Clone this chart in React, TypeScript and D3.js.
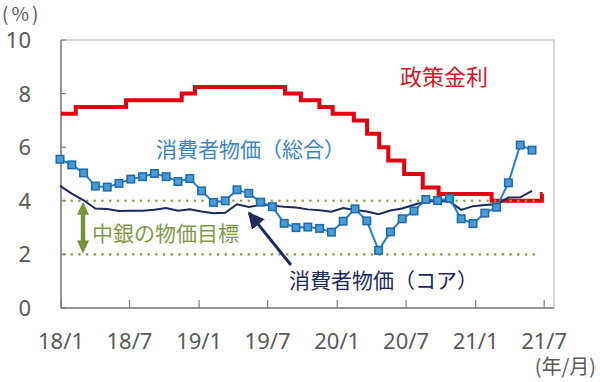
import React from 'react';
import * as d3 from 'd3';

// ---- data ----
const monthStarts: Date[] = d3.timeMonth.range(new Date(2018, 0, 1), new Date(2021, 5, 1));
const months: string[] = monthStarts.map((d) => d3.timeFormat('%Y-%m')(d));

const cpiHeadline: number[] = [
  5.55, 5.34, 5.04, 4.55, 4.51, 4.65, 4.81, 4.9, 5.02, 4.9, 4.72, 4.83,
  4.37, 3.94, 4.0, 4.41, 4.28, 3.95, 3.78, 3.16, 3.0, 3.02, 2.97, 2.83,
  3.24, 3.7, 3.25, 2.15, 2.84, 3.33, 3.62, 4.05, 4.01, 4.09, 3.33, 3.15,
  3.54, 3.76, 4.67, 6.08, 5.89,
];
const cpiCore: number[] = [
  4.56, 4.27, 4.02, 3.71, 3.69, 3.62, 3.63, 3.63, 3.67, 3.73, 3.63, 3.68,
  3.6, 3.54, 3.55, 3.87, 3.77, 3.85, 3.82, 3.78, 3.75, 3.68, 3.65, 3.59,
  3.73, 3.66, 3.6, 3.5, 3.64, 3.71, 3.85, 3.97, 3.99, 3.98, 3.66, 3.8,
  3.84, 3.87, 4.12, 4.13, 4.37,
];
const rateDates: string[] = [
  '2018-01-01', '2018-02-09', '2018-06-22', '2018-11-16', '2018-12-21',
  '2019-08-16', '2019-09-27', '2019-11-15', '2019-12-20', '2020-02-14',
  '2020-03-20', '2020-04-21', '2020-05-15', '2020-06-26', '2020-08-14',
  '2020-09-25', '2021-02-12', '2021-06-25', '2021-06-27',
];
const rateValues: number[] = [
  7.25, 7.5, 7.75, 8.0, 8.25, 8.0, 7.75, 7.5, 7.25, 7.0,
  6.5, 6.0, 5.5, 5.0, 4.5, 4.25, 4.0, 4.25, 4.25,
];
const targetBand: number[] = [2, 4];
const yTicks: number[] = [0, 2, 4, 6, 8, 10];
const xTickDates: string[] = ['2018-01-01', '2018-07-01', '2019-01-01', '2019-07-01', '2020-01-01', '2020-07-01', '2021-01-01', '2021-07-01'];
const xTickLabels: string[] = ['18/1', '18/7', '19/1', '19/7', '20/1', '20/7', '21/1', '21/7'];

const parse = d3.timeParse('%Y-%m-%d');

export default function App() {
  const W = 600, H = 382;
  const L = 61, R = 554, T = 40, B = 308;
  const xTime = d3.scaleTime().domain([new Date(2018, 0, 1), new Date(2021, 6, 27)]).range([L, R]);
  const xCat = d3.scalePoint<string>().domain(months).range([60, 532]);
  const y = d3.scaleLinear().domain([0, 10]).range([B, T]);

  const rateData = rateDates.map((d, i) => ({ d: parse(d) as Date, v: rateValues[i] }));
  const rateLine = d3.line<{ d: Date; v: number }>().x((p) => xTime(p.d)).y((p) => y(p.v)).curve(d3.curveStepAfter);
  const catLine = d3.line<number>().x((_, i) => xCat(months[i]) as number).y((v) => y(v));

  const tickFont = '"Noto Sans", sans-serif';
  const jp = '"Noto Sans CJK JP", sans-serif';
  const green = '#77933c';
  const navy = '#1b2a5c';
  const blue = '#2a7fc0';
  const red = '#e3000f';

  const ax = 83;
  const aTop = y(targetBand[1]) + 1;
  const aBot = y(targetBand[0]) - 1;

  return (
    <svg width={W} height={H} style={{ position: 'absolute', left: 0, top: 0, background: '#fff' }}>
      <defs>
        <marker id="navyHead" viewBox="0 0 10 10" refX="9" refY="5" markerWidth="5.5" markerHeight="5.5" orient="auto-start-reverse" markerUnits="strokeWidth">
          <path d="M0,0 L10,5 L0,10 Z" fill={navy} />
        </marker>
      </defs>
      {/* frame */}
      <rect x={L} y={T} width={R - L} height={B - T} fill="none" stroke="#b0b0b0" strokeWidth={1} />
      <line x1={L} x2={L} y1={T} y2={B} stroke="#7f7f7f" strokeWidth={1.5} />
      <line x1={L} x2={R} y1={B} y2={B} stroke="#7f7f7f" strokeWidth={1.5} />
      {yTicks.map((t) => (
        <g key={t}>
          <line x1={L} x2={L + 5} y1={y(t)} y2={y(t)} stroke="#7f7f7f" strokeWidth={1.2} />
          <text x={31} y={y(t) + 8} textAnchor="end" fontFamily={tickFont} fontSize={22} fill="#595959">{t}</text>
        </g>
      ))}
      {xTickDates.map((d, i) => {
        const xx = xTime(parse(d) as Date);
        return (
          <g key={d}>
            <line x1={xx} x2={xx} y1={B} y2={B - 8} stroke="#7f7f7f" strokeWidth={1.2} />
            <text x={xx} y={349} textAnchor="middle" fontFamily={tickFont} fontSize={22} fill="#595959">{xTickLabels[i]}</text>
          </g>
        );
      })}
      <text x={2} y={21} fontFamily={jp} fontSize={19} letterSpacing={3} fill="#595959">(%)</text>
      <text x={596} y={374} textAnchor="end" fontFamily={jp} fontSize={20} fill="#595959">(年/月)</text>

      {/* policy rate */}
      <path d={rateLine(rateData) as string} fill="none" stroke={red} strokeWidth={4} />
      {/* target band */}
      {targetBand.map((v) => (
        <line key={v} x1={L + 3} x2={540} y1={y(v)} y2={y(v)} stroke="#8fa04c" strokeWidth={2.6} strokeDasharray="0 7.7" strokeLinecap="round" />
      ))}
      {/* core */}
      <path d={catLine(cpiCore) as string} fill="none" stroke={navy} strokeWidth={2} />
      {/* headline */}
      <path d={catLine(cpiHeadline) as string} fill="none" stroke={blue} strokeWidth={2} />
      {cpiHeadline.map((v, i) => (
        <rect key={i} x={(xCat(months[i]) as number) - 3.75} y={y(v) - 3.75} width={7.5} height={7.5} fill="#4a9ad6" stroke="#1d6aab" strokeWidth={1.5} />
      ))}

      {/* annotations */}
      <text x={400} y={85} fontFamily={jp} fontSize={22} fill="#d7141e">政策金利</text>
      <text x={156} y={157} fontFamily={jp} fontSize={21} fill="#3a86c4">消費者物価（総合）</text>
      <text x={289} y={288} fontFamily={jp} fontSize={21} fill={navy}>消費者物価（コア）</text>
      <text x={92} y={241} fontFamily={jp} fontSize={21} fill="#7f9a45">中銀の物価目標</text>
      <line x1={291} y1={265} x2={249} y2={213} stroke={navy} strokeWidth={3} markerEnd="url(#navyHead)" />
      {/* green double arrow */}
      <rect x={ax - 2.2} y={aTop + 11} width={4.4} height={aBot - aTop - 22} fill={green} />
      <path d={`M${ax},${aTop} L${ax + 6},${aTop + 13} L${ax - 6},${aTop + 13} Z`} fill={green} />
      <path d={`M${ax},${aBot} L${ax + 6},${aBot - 13} L${ax - 6},${aBot - 13} Z`} fill={green} />
    </svg>
  );
}
